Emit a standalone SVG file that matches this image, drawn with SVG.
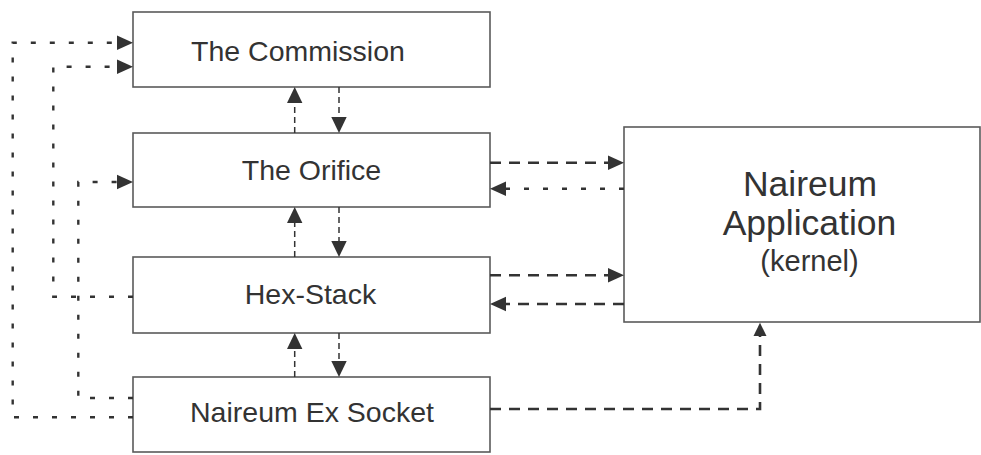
<svg xmlns="http://www.w3.org/2000/svg" width="981" height="455" viewBox="0 0 981 455">
<style>
.box{fill:#fff;stroke:#5a5a5a;stroke-width:1.6}
.t{font-family:"Liberation Sans",Arial,sans-serif;fill:#333;text-anchor:middle}
.dot{fill:none;stroke:#333;stroke-width:2.4;stroke-dasharray:5 14}
.dash{fill:none;stroke:#333;stroke-width:2.6;stroke-dasharray:11 8}
.thin{fill:none;stroke:#333;stroke-width:1.5;stroke-dasharray:6 4}
.ah{fill:#333}
</style>
<rect width="981" height="455" fill="#fff"/>
<g id="commission"><rect class="box" x="133" y="12" width="357" height="75"/><text class="t" x="298" y="60.5" font-size="28.5">The Commission</text></g>
<g id="orifice"><rect class="box" x="133" y="133" width="357" height="74"/><text class="t" x="311.5" y="180" font-size="28.5">The Orifice</text></g>
<g id="hexstack"><rect class="box" x="133" y="257" width="357" height="76"/><text class="t" x="310.5" y="303.5" font-size="28.5">Hex-Stack</text></g>
<g id="socket"><rect class="box" x="133" y="377" width="357" height="75"/><text class="t" x="312" y="421.5" font-size="28.5">Naireum Ex Socket</text></g>
<g id="app"><rect class="box" x="624" y="127" width="356" height="195"/>
<text class="t" x="810" y="196" font-size="35.5">Naireum</text>
<text class="t" x="809.5" y="235" font-size="35.5">Application</text>
<text class="t" x="809.5" y="270.5" font-size="29">(kernel)</text></g>
<g id="connectors">
<!-- vertical center arrows -->
<path class="thin" d="M294.7 133V100"/><polygon class="ah" points="294.7,87 287,103 302.4,103"/>
<path class="thin" d="M339 87V120"/><polygon class="ah" points="339,133 331.3,117 346.7,117"/>
<path class="thin" d="M294.7 257V220"/><polygon class="ah" points="294.7,207 287,223 302.4,223"/>
<path class="thin" d="M339 207V244"/><polygon class="ah" points="339,257 331.3,241 346.7,241"/>
<path class="thin" d="M294.7 377V346"/><polygon class="ah" points="294.7,333 287,349 302.4,349"/>
<path class="thin" d="M339 333V364"/><polygon class="ah" points="339,377 331.3,361 346.7,361"/>
<!-- right side -->
<path class="dash" d="M490 162.7H610"/><polygon class="ah" points="624,162.7 608,155.5 608,169.9"/>
<path class="dot" d="M624 188.7H505" style="stroke-dasharray:5 14"/><polygon class="ah" points="490,188.7 506,181.5 506,195.9"/>
<path class="dash" d="M490 275.3H610"/><polygon class="ah" points="624,275.3 608,268.1 608,282.5"/>
<path class="dash" d="M624 304H505"/><polygon class="ah" points="490,304 506,296.8 506,311.2"/>
<path class="dash" d="M490 409H760V336"/><polygon class="ah" points="760,322.7 753.5,336 766.5,336"/>
<!-- left side loops -->
<path class="dot" d="M133 417.3H12.7V42.7H118"/><polygon class="ah" points="133,42.7 117,35.5 117,49.9"/>
<path class="dot" d="M133 296.7H53.3V66.7H118"/><polygon class="ah" points="133,66.7 117,59.5 117,73.9"/>
<path class="dot" d="M133 398H78.3V182H118"/><polygon class="ah" points="133,182 117,174.8 117,189.2"/>
</g>
</svg>
